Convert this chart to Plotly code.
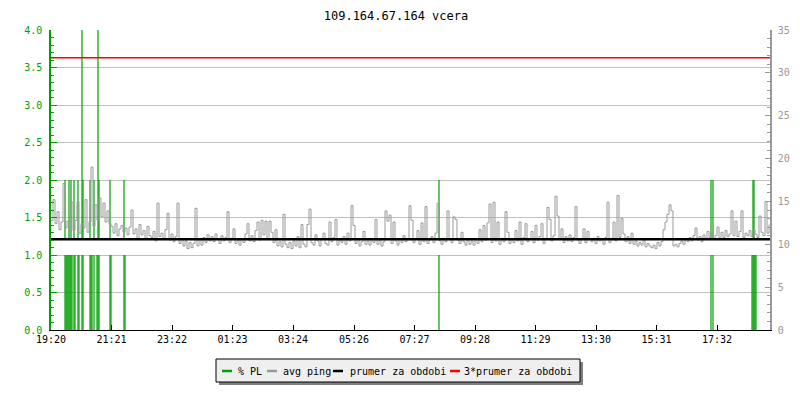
import plotly.graph_objects as go

# ---------------- data ----------------
title_text = "109.164.67.164 vcera"
start_time = "19:20"
ping_step_min = 4
x_span_min = 1438

tick_labels = ["19:20", "21:21", "23:22", "01:23", "03:24", "05:26",
               "07:27", "09:28", "11:29", "13:30", "15:31", "17:32"]

ping_ms = [
    12.8, 15.2, 12.4, 13.8, 11.7, 12.6, 17.1, 11.9, 12.7, 11.5,
    14.9, 11.6, 12.8, 15.0, 11.3, 12.4, 11.9, 15.2, 11.4, 12.6,
    19.0, 12.1, 14.6, 12.8, 15.4, 13.2, 14.8, 12.6, 13.9, 12.4,
    12.1, 11.3, 12.4, 11.0, 11.8, 12.2, 11.4, 11.9, 11.1, 12.0,
    14.0, 11.2, 11.8, 10.7, 12.3, 11.1, 11.6, 10.6, 12.1, 11.0,
    10.8, 11.5, 10.4, 14.8, 10.9, 11.3, 10.6, 11.7, 13.6, 10.5,
    11.2, 10.3, 10.9, 14.8, 10.1, 10.6, 9.8, 10.4, 9.5, 10.2,
    9.6, 10.1, 14.2, 9.8, 10.5, 9.9, 10.8, 10.2, 11.1, 10.4,
    10.9, 10.3, 11.2, 10.6, 10.1, 11.0, 10.4, 10.8, 13.8, 10.2,
    10.7, 11.8, 10.1, 10.5, 9.9, 10.6, 10.2, 11.2, 12.4, 10.4,
    11.0, 10.3, 11.6, 12.6, 10.5, 12.8, 11.1, 12.7, 10.6, 12.7,
    11.4, 10.2, 11.7, 9.8, 10.3, 9.7, 13.5, 10.0, 9.6, 10.2,
    9.5, 10.4, 9.8, 10.9, 9.6, 12.3, 10.0, 9.7, 12.3, 14.1,
    10.2, 9.9, 11.1, 10.4, 9.8, 10.6, 11.3, 10.1, 9.9, 12.6,
    10.3, 10.8, 12.9, 9.9, 10.5, 10.2, 10.9, 10.0, 11.3, 10.4,
    14.5, 12.2, 10.1, 10.6, 9.8, 10.3, 11.5, 10.0, 10.4, 9.9,
    10.6, 10.2, 12.9, 10.0, 10.5, 9.8, 10.3, 13.9, 12.7, 13.4,
    10.1, 12.6, 10.4, 9.9, 10.6, 10.2, 11.0, 10.3, 10.7, 14.5,
    12.8, 10.2, 10.6, 11.6, 10.0, 12.5, 10.3, 14.4, 10.1, 10.5,
    10.9, 10.2, 11.3, 14.8, 10.4, 10.0, 10.7, 10.3, 13.9, 10.6,
    10.2, 13.2, 12.9, 10.5, 10.1, 11.4, 10.3, 9.9, 10.6, 10.0,
    10.4, 9.9, 10.6, 10.1, 11.7, 10.3, 12.2, 10.5, 12.5, 14.7,
    10.2, 14.9, 10.4, 12.6, 10.0, 10.7, 10.3, 13.8, 11.4, 10.1,
    10.6, 10.2, 11.6, 10.4, 12.6, 10.0, 10.8, 12.4, 10.3, 10.6,
    11.5, 10.2, 12.2, 10.5, 10.9, 12.4, 10.1, 10.7, 14.3, 12.9,
    10.4, 11.0, 15.6, 13.3, 10.6, 11.8, 10.2, 10.9, 10.4, 11.1,
    10.3, 10.8, 14.4, 10.5, 10.1, 10.7, 11.8, 10.2, 11.5, 10.6,
    10.3, 10.7, 10.1, 10.9, 10.4, 10.6, 10.0, 10.8, 14.9, 10.2,
    10.7, 12.6, 10.4, 15.7, 10.8, 13.0, 11.2, 10.3, 10.9, 10.1,
    11.3, 10.0, 10.4, 9.8, 10.2, 9.9, 10.5, 9.7, 10.1, 9.8,
    9.6, 9.9, 9.5, 10.2, 9.8, 10.3, 11.7, 12.6, 13.5, 14.6,
    13.9, 9.8, 10.0, 9.7, 10.1, 10.4, 10.0, 10.6, 10.3, 10.8,
    10.4, 11.0, 11.9, 10.5, 10.9, 10.3, 11.1, 10.6, 11.5, 10.8,
    11.3, 10.6, 11.0, 12.0, 10.7, 11.4, 10.8, 11.6, 10.9, 11.2,
    13.9, 11.0, 12.7, 10.9, 11.5, 13.9, 10.8, 11.3, 11.0, 11.6,
    10.9, 11.7, 11.2, 10.8, 13.3, 11.4, 11.0, 15.0, 11.3, 12.3,
]

pl_times = ["19:48", "19:50", "19:52", "19:54", "19:56", "19:58", "20:00", "20:02",
            "20:06", "20:08", "20:14", "20:16", "20:22", "20:24", "20:38", "20:40",
            "20:42", "20:46", "20:52", "20:54", "20:56", "21:18", "21:20", "21:46",
            "21:48", "08:16", "17:20", "17:24", "18:42", "18:44", "18:46", "18:48",
            "18:50"]
pl_values = [2, 1, 1, 1, 2, 1, 2, 1,
             2, 1, 2, 1, 4, 2, 2, 1,
             1, 2, 1, 4, 2, 2, 1, 2,
             1, 2, 2, 2, 1, 2, 2, 1,
             1]

avg_ping = 10.59
pl_max, ping_max = 4, 35

series_names = ["% PL", "avg ping", "prumer za obdobi", "3*prumer za obdobi"]
series_colors = ["#00a000", "#999999", "#000000", "#ff0000"]

# ---------------- helpers ----------------
def to_min(s):
    h, m = map(int, s.split(":"))
    h0, m0 = map(int, start_time.split(":"))
    return ((h * 60 + m) - (h0 * 60 + m0)) % 1440

FONT = "DejaVu Sans Mono"
GREEN, GRAY, BLACK, RED = series_colors

ping_x = [i * ping_step_min for i in range(len(ping_ms))]
scale = pl_max / ping_max
avg_left = avg_ping * scale

bx, by = [], []
for t, v in zip(pl_times, pl_values):
    m = to_min(t)
    bx += [m, m, None]
    by += [0, min(v, 1), None]
    if v > 1:
        bx += [m, m, None]
        by += [avg_left, v, None]

fig = go.Figure()
fig.add_trace(go.Scatter(x=bx, y=by, mode="lines", line=dict(color=GREEN, width=1.2),
                         name=series_names[0], yaxis="y", showlegend=False, connectgaps=False))
fig.add_trace(go.Scatter(x=ping_x, y=ping_ms, mode="lines", line=dict(color=GRAY, width=1, shape="hv"),
                         name=series_names[1], yaxis="y2", showlegend=False))
fig.add_trace(go.Scatter(x=[0, x_span_min], y=[avg_ping, avg_ping], mode="lines",
                         line=dict(color=BLACK, width=2.5), name=series_names[2],
                         yaxis="y2", showlegend=False))
fig.add_trace(go.Scatter(x=[0, x_span_min], y=[3 * avg_ping, 3 * avg_ping], mode="lines",
                         line=dict(color=RED, width=1.5), name=series_names[3],
                         yaxis="y2", showlegend=False))

tickvals = [to_min(t) for t in tick_labels]

# page body has an 8px default margin; compensate so the plot lands at the same pixels
OFF = 8
W, H = 800 - OFF, 400 - OFF
L, R, T, B = 51 - OFF, 30, 30 - OFF, 70
PW, PH = W - L - R, H - T - B

def px(xp):
    return (xp - OFF - L) / PW

def py(yp):
    return (H - B - (yp - OFF)) / PH

shapes = [
    dict(type="rect", xref="paper", yref="paper", x0=px(219), x1=px(583), y0=py(385), y1=py(362),
         fillcolor="#808080", line=dict(width=0), layer="above"),
    dict(type="rect", xref="paper", yref="paper", x0=px(216), x1=px(580), y0=py(382), y1=py(359),
         fillcolor="#efefef", line=dict(color="#000000", width=1), layer="above"),
]
annotations = []
sw_x = [222, 267, 333, 450]
tx_x = [236, 281, 348, 462]
for name, col, sx, tx in zip(series_names, series_colors, sw_x, tx_x):
    shapes.append(dict(type="line", xref="paper", yref="paper", x0=px(sx), x1=px(sx + 10),
                       y0=py(371), y1=py(371), line=dict(color=col, width=2.5), layer="above"))
    annotations.append(dict(text=name, xref="paper", yref="paper", x=px(tx), y=py(371),
                            xanchor="left", yanchor="middle", showarrow=False,
                            font=dict(family=FONT, size=10, color="#000000")))

fig.update_layout(
    width=W, height=H,
    margin=dict(l=L, r=R, t=T, b=B, autoexpand=False),
    paper_bgcolor="white", plot_bgcolor="white",
    showlegend=False,
    title=dict(text=title_text, x=(396 - OFF) / W, xref="container", xanchor="center",
               y=1 - 8 / H, yref="container", yanchor="middle",
               font=dict(family=FONT, size=12, color="#000000")),
    xaxis=dict(range=[0, x_span_min], tickmode="array", tickvals=tickvals, ticktext=tick_labels,
               ticks="inside", ticklen=5, tickcolor="#000000", showgrid=False, zeroline=False,
               showline=True, linecolor="#000000", linewidth=1, automargin=False,
               tickfont=dict(family=FONT, size=10, color="#000000")),
    yaxis=dict(range=[0, pl_max], dtick=0.5, tick0=0, tickformat=".1f", automargin=False,
               ticks="inside", ticklen=6, tickcolor=GREEN,
               minor=dict(dtick=0.1, ticks="inside", ticklen=3, tickcolor=GREEN, showgrid=False),
               showgrid=True, gridcolor="#c0c0c0", gridwidth=1, zeroline=False,
               showline=True, linecolor=GREEN, linewidth=1.5,
               tickfont=dict(family=FONT, size=10, color=GREEN), ticklabelstandoff=5),
    yaxis2=dict(range=[0, ping_max], dtick=5, tick0=0, overlaying="y", side="right", automargin=False,
                ticks="inside", ticklen=5, tickcolor="#999999",
                minor=dict(dtick=1, ticks="inside", ticklen=3, tickcolor="#999999", showgrid=False),
                showgrid=False, zeroline=False, showline=True, linecolor="#999999", linewidth=1.5,
                tickfont=dict(family=FONT, size=10, color="#999999"), ticklabelstandoff=4),
    shapes=shapes,
    annotations=annotations,
)

fig.write_html("out.html")
